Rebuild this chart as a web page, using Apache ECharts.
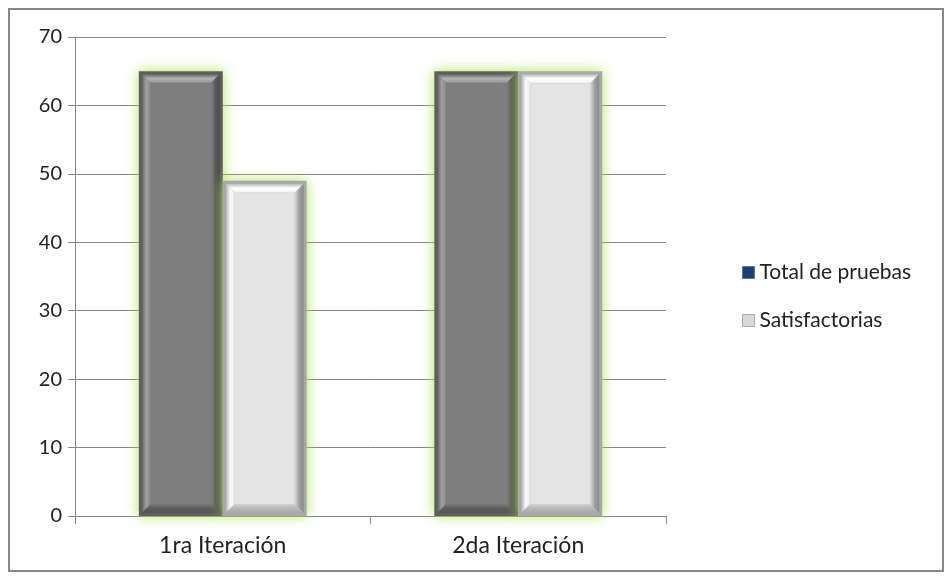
<!DOCTYPE html>
<html>
<head>
<meta charset="utf-8">
<script src="https://cdn.jsdelivr.net/npm/echarts@6/dist/echarts.min.js"></script>
<style>html,body{margin:0;padding:0;background:#fff}#c{width:952px;height:581px}</style>
</head>
<body>
<div id="c"></div>
<script>
const categories = ['1ra Iteración', '2da Iteración'];
const totalPruebas = [65, 65];
const satisfactorias = [49, 65];
const yTicks = [0, 10, 20, 30, 40, 50, 60, 70];

const FONT = 'Lato, "Open Sans", sans-serif';
const chart = echarts.init(document.getElementById('c'));

const palettes = [
  {frame: '#5e5e5e', face: '#7e7e7e',
   top: ['#666666', '#b4b4b4', '#8e8e8e'], left: ['#626262', '#a2a2a2', '#858585'],
   right: ['#858585', '#5a5a5a', '#4c4c4c'], bottom: ['#7a7a7a', '#5c5c5c', '#555555'],
   glow: 'rgba(165,225,70,0.9)'},
  {frame: '#a8a8a8', face: '#e4e4e4',
   top: ['#b8b8b8', '#ffffff', '#f0f0f0'], left: ['#b0b0b0', '#fbfbfb', '#eaeaea'],
   right: ['#dcdcdc', '#a0a0a0', '#8a8a8a'], bottom: ['#d4d4d4', '#b8b8b8', '#a8a8a8'],
   glow: 'rgba(165,225,70,0.9)'}
];

function grad(x2, y2, cols) {
  return new echarts.graphic.LinearGradient(0, 0, x2, y2, [
    {offset: 0, color: cols[0]}, {offset: 0.5, color: cols[1]}, {offset: 1, color: cols[2]}]);
}

function bevelBar(params, api) {
  const i = api.value(0), v = api.value(1);
  const top = api.coord([i, v]);
  const base = api.coord([i, 0]);
  const band = api.size([1, 0])[0];
  const w = band * 0.284;
  const x0 = params.seriesIndex === 0 ? top[0] - w : top[0];
  const y0 = top[1];
  const h = base[1] - top[1];
  const p = palettes[params.seriesIndex];
  const f = 3, b = 9;
  const ox = x0 + f, oy = y0 + f, ow = w - 2 * f, oh = h - 2 * f;
  const ix = ox + b, iy = oy + b, iw = ow - 2 * b, ih = oh - 2 * b;
  return {
    type: 'group',
    children: [
      {type: 'rect', shape: {x: x0, y: y0, width: w, height: h},
        style: {fill: p.frame, shadowColor: p.glow, shadowBlur: 12}},
      {type: 'polygon', shape: {points: [[ox, oy], [ox + ow, oy], [ix + iw, iy], [ix, iy]]},
        style: {fill: grad(0, 1, p.top)}},
      {type: 'polygon', shape: {points: [[ox, oy], [ix, iy], [ix, iy + ih], [ox, oy + oh]]},
        style: {fill: grad(1, 0, p.left)}},
      {type: 'polygon', shape: {points: [[ox + ow, oy], [ox + ow, oy + oh], [ix + iw, iy + ih], [ix + iw, iy]]},
        style: {fill: grad(1, 0, p.right)}},
      {type: 'polygon', shape: {points: [[ox, oy + oh], [ix, iy + ih], [ix + iw, iy + ih], [ox + ow, oy + oh]]},
        style: {fill: grad(0, 1, p.bottom)}},
      {type: 'rect', shape: {x: ix, y: iy, width: iw, height: ih}, style: {fill: p.face}}
    ]
  };
}

chart.setOption({
  animation: false,
  backgroundColor: '#fff',
  graphic: [{type: 'rect', shape: {x: 9, y: 9, width: 934, height: 562},
    style: {fill: null, stroke: '#878787', lineWidth: 2}}],
  grid: {left: 75, right: 286, top: 37, bottom: 65},
  legend: {
    orient: 'vertical', left: 737, top: 257, itemGap: 27,
    itemWidth: 12, itemHeight: 12, icon: 'rect',
    textStyle: {fontFamily: FONT, fontSize: 21, color: '#222'},
    data: [
      {name: 'Total de pruebas', itemStyle: {color: '#1f3f73', borderColor: '#5577aa', borderWidth: 1}},
      {name: 'Satisfactorias', itemStyle: {color: '#d8d8d8', borderColor: '#aaa', borderWidth: 1}}
    ]
  },
  xAxis: {
    type: 'category', data: categories,
    axisLine: {lineStyle: {color: '#868686', width: 1}},
    axisTick: {show: true, length: 8, lineStyle: {color: '#868686'}},
    axisLabel: {fontFamily: FONT, fontSize: 23, color: '#222', margin: 18}
  },
  yAxis: {
    type: 'value', min: 0, max: 70, interval: 10,
    axisLine: {show: true, lineStyle: {color: '#868686'}},
    axisTick: {show: true, length: 7, lineStyle: {color: '#868686'}},
    splitLine: {lineStyle: {color: '#868686', width: 1}},
    axisLabel: {fontFamily: FONT, fontSize: 20, color: '#222', margin: 13,
      formatter: v => yTicks.includes(v) ? String(v) : ''}
  },
  series: [
    {name: 'Total de pruebas', type: 'custom', renderItem: bevelBar,
      itemStyle: {color: '#1f3f73'},
      encode: {x: 0, y: 1}, data: totalPruebas.map((v, i) => [i, v])},
    {name: 'Satisfactorias', type: 'custom', renderItem: bevelBar,
      itemStyle: {color: '#d8d8d8'},
      encode: {x: 0, y: 1}, data: satisfactorias.map((v, i) => [i, v])}
  ]
});
</script>
</body>
</html>
